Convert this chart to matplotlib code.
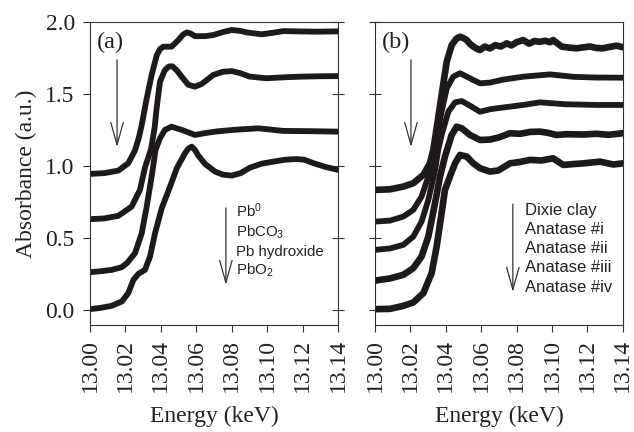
import numpy as np
import matplotlib
matplotlib.use("Agg")
import matplotlib.pyplot as plt

# ---- data (energy keV, absorbance a.u.) ----
pb0 = [(13.000, 0.947), (13.008, 0.952), (13.016, 0.970), (13.0216, 1.021),
       (13.0254, 1.110), (13.0275, 1.195), (13.0292, 1.286), (13.032, 1.470),
       (13.0348, 1.633), (13.0377, 1.770), (13.0395, 1.812), (13.0414, 1.829),
       (13.046, 1.829), (13.0499, 1.875), (13.0525, 1.912), (13.0546, 1.928),
       (13.0565, 1.922), (13.0593, 1.902), (13.065, 1.902), (13.0696, 1.910),
       (13.075, 1.930), (13.080, 1.945), (13.085, 1.938), (13.0885, 1.928),
       (13.0969, 1.915), (13.103, 1.925), (13.1091, 1.937), (13.118, 1.935),
       (13.128, 1.933), (13.140, 1.935)]

pbco3 = [(13.000, 0.633), (13.008, 0.638), (13.016, 0.656), (13.0235, 0.720),
         (13.0282, 0.836), (13.031, 0.990), (13.0345, 1.120), (13.0365, 1.270),
         (13.0376, 1.400), (13.0395, 1.586), (13.0423, 1.667), (13.0445, 1.692),
         (13.0465, 1.693), (13.0490, 1.665), (13.0515, 1.625), (13.0555, 1.565),
         (13.0593, 1.552), (13.063, 1.570), (13.0696, 1.633), (13.075, 1.655),
         (13.080, 1.660), (13.085, 1.645), (13.090, 1.622), (13.0997, 1.610),
         (13.110, 1.617), (13.1185, 1.621), (13.130, 1.624), (13.140, 1.625)]

pb_hydroxide = [(13.000, 0.265), (13.006, 0.272), (13.0122, 0.281), (13.0179, 0.300),
                (13.021, 0.330), (13.0254, 0.397), (13.0292, 0.535), (13.032, 0.720),
                (13.0348, 0.928), (13.037, 1.113), (13.0395, 1.194), (13.0423, 1.252),
                (13.046, 1.274), (13.0518, 1.252), (13.0593, 1.217), (13.065, 1.230),
                (13.072, 1.242), (13.0809, 1.252), (13.088, 1.258), (13.095, 1.263),
                (13.1091, 1.245), (13.125, 1.243), (13.140, 1.240)]

pbo2 = [(13.000, 0.009), (13.006, 0.018), (13.0122, 0.032), (13.0179, 0.062),
        (13.0216, 0.120), (13.0245, 0.212), (13.0273, 0.254), (13.031, 0.281),
        (13.0339, 0.374), (13.0367, 0.535), (13.0405, 0.709), (13.0452, 0.859),
        (13.049, 0.986), (13.0536, 1.090), (13.0555, 1.122), (13.0574, 1.136),
        (13.0593, 1.112), (13.0611, 1.075), (13.065, 1.015), (13.0706, 0.963),
        (13.075, 0.942), (13.080, 0.935), (13.085, 0.952), (13.0903, 0.990),
        (13.097, 1.018), (13.1035, 1.032), (13.110, 1.045), (13.1167, 1.050),
        (13.121, 1.045), (13.126, 1.022), (13.133, 0.995), (13.140, 0.975)]

dixie = [(13.000, 0.836), (13.0085, 0.840), (13.016, 0.859), (13.0216, 0.882),
         (13.0273, 0.940), (13.031, 1.020), (13.0329, 1.113), (13.0348, 1.263),
         (13.0376, 1.494), (13.0405, 1.725), (13.0433, 1.840), (13.046, 1.885),
         (13.048, 1.898), (13.050, 1.888), (13.0518, 1.875), (13.0535, 1.850),
         (13.0555, 1.830), (13.0575, 1.815), (13.0593, 1.806), (13.062, 1.830),
         (13.0649, 1.817), (13.068, 1.840), (13.071, 1.830), (13.0743, 1.852),
         (13.077, 1.838), (13.080, 1.860), (13.0837, 1.875), (13.087, 1.850),
         (13.090, 1.868), (13.0931, 1.863), (13.096, 1.870), (13.099, 1.860),
         (13.1006, 1.875), (13.103, 1.852), (13.1054, 1.830), (13.110, 1.822),
         (13.1139, 1.818), (13.118, 1.825), (13.1214, 1.830), (13.125, 1.820),
         (13.1289, 1.818), (13.132, 1.826), (13.1364, 1.836), (13.140, 1.825)]

anatase_i = [(13.000, 0.616), (13.0085, 0.623), (13.016, 0.651), (13.0216, 0.697),
             (13.0263, 0.790), (13.0301, 0.928), (13.0329, 1.067), (13.034, 1.150),
             (13.0376, 1.378), (13.0405, 1.540), (13.0442, 1.621), (13.048, 1.645),
             (13.0536, 1.610), (13.0593, 1.575), (13.0649, 1.580), (13.072, 1.600),
             (13.0837, 1.621), (13.0988, 1.637), (13.1121, 1.620), (13.125, 1.615),
             (13.140, 1.614)]

anatase_ii = [(13.000, 0.420), (13.0085, 0.430), (13.016, 0.455), (13.0216, 0.512),
              (13.0263, 0.616), (13.0301, 0.766), (13.0339, 0.974), (13.0357, 1.113),
              (13.0376, 1.217), (13.0414, 1.378), (13.0452, 1.443), (13.049, 1.452),
              (13.0536, 1.420), (13.0593, 1.378), (13.0649, 1.395), (13.0677, 1.400),
              (13.0837, 1.425), (13.0931, 1.443), (13.1073, 1.430), (13.125, 1.425),
              (13.140, 1.425)]

anatase_iii = [(13.000, 0.207), (13.0085, 0.222), (13.016, 0.247), (13.0216, 0.293),
               (13.0263, 0.374), (13.0301, 0.512), (13.0339, 0.744), (13.0367, 0.928),
               (13.0395, 1.067), (13.0433, 1.217), (13.0461, 1.274), (13.049, 1.263),
               (13.0536, 1.217), (13.0593, 1.182), (13.0649, 1.185), (13.070, 1.200),
               (13.0762, 1.229), (13.082, 1.225), (13.0875, 1.238), (13.0931, 1.240),
               (13.0975, 1.232), (13.1025, 1.217), (13.108, 1.222), (13.1177, 1.220),
               (13.125, 1.225), (13.132, 1.218), (13.140, 1.229)]

anatase_iv = [(13.000, 0.009), (13.0085, 0.011), (13.016, 0.032), (13.0216, 0.055),
              (13.0273, 0.120), (13.032, 0.259), (13.0348, 0.443), (13.0376, 0.674),
              (13.0395, 0.836), (13.0423, 0.928), (13.0452, 1.020), (13.048, 1.078),
              (13.0518, 1.067), (13.0555, 1.020), (13.0593, 0.986), (13.0649, 0.963),
              (13.0695, 0.970), (13.0762, 1.020), (13.082, 1.030), (13.0875, 1.044),
              (13.094, 1.040), (13.1006, 1.055), (13.1063, 1.009), (13.112, 1.015),
              (13.1177, 1.020), (13.1271, 1.032), (13.1346, 1.012), (13.140, 1.020)]

labels_a = ["Pb$^{0}$", "PbCO$_{3}$", "Pb hydroxide", "PbO$_{2}$"]
labels_b = ["Dixie clay", "Anatase #i", "Anatase #ii", "Anatase #iii", "Anatase #iv"]
series_a = [pb0, pbco3, pb_hydroxide, pbo2]
series_b = [dixie, anatase_i, anatase_ii, anatase_iii, anatase_iv]

xticks = [13.00, 13.02, 13.04, 13.06, 13.08, 13.10, 13.12, 13.14]
yticks = [0.0, 0.5, 1.0, 1.5, 2.0]

LINE = "#1e1a1b"
AXC = "#333333"
TXT = "#222222"
SANS = "Liberation Sans"

plt.rcParams["font.family"] = "serif"
plt.rcParams["font.serif"] = ["Liberation Serif", "DejaVu Serif"]
plt.rcParams["mathtext.fontset"] = "custom"
plt.rcParams["mathtext.rm"] = SANS
plt.rcParams["mathtext.it"] = SANS + ":italic"

fig = plt.figure(figsize=(6.34, 4.32), dpi=100)
ax_a = fig.add_axes([0.142, 0.248, 0.391, 0.701])
ax_b = fig.add_axes([0.5915, 0.248, 0.391, 0.701])


def style_axes(ax, show_ylabels):
    ax.set_xlim(13.0, 13.14)
    ax.set_ylim(-0.1, 2.0)
    for s in ax.spines.values():
        s.set_linewidth(0.8)
        s.set_color(AXC)
    ax.tick_params(axis="x", direction="out", length=5, width=0.8, pad=5,
                   color=AXC, labelcolor=TXT, labelsize=17, labelrotation=90)
    if show_ylabels:
        ax.tick_params(axis="y", direction="out", length=5, width=0.8, pad=6,
                       color=AXC, labelcolor=TXT, labelsize=17)
    else:
        ax.tick_params(axis="y", direction="inout", length=9, width=0.8,
                       color=AXC, labelleft=False)
    ax.set_xticks(xticks)
    ax.set_xticklabels([f"{t:.2f}" for t in xticks])
    ax.set_yticks(yticks)
    if show_ylabels:
        ax.set_yticklabels([f"{t:.1f}" for t in yticks])
    ax.set_xlabel("Energy (keV)", fontsize=17, labelpad=10, color=TXT)


def draw_arrow(ax, x, y_top, y_tip):
    ax.annotate("", xy=(x, y_tip), xytext=(x, y_top), xycoords="axes fraction",
                arrowprops=dict(arrowstyle="->,head_length=1.6,head_width=0.45",
                                mutation_scale=10, lw=0.9, color=AXC,
                                shrinkA=0, shrinkB=0))


# panel (a)
for pts in series_a:
    e, a = np.array(pts).T
    ax_a.plot(e, a, color=LINE, lw=4.2, solid_joinstyle="round",
              solid_capstyle="round")
style_axes(ax_a, True)
ax_a.set_ylabel("Absorbance (a.u.)", fontsize=17, labelpad=6, color=TXT)
# ticks on the right spine of panel (a)
ax_r = ax_a.secondary_yaxis("right")
ax_r.tick_params(direction="inout", length=9, width=0.8, color=AXC,
                 labelright=False)
ax_r.set_yticks(yticks)
ax_r.spines["right"].set_visible(False)

ax_a.text(0.028, 0.934, "(a)", transform=ax_a.transAxes, color=TXT,
          fontsize=17.5, va="center", ha="left")
draw_arrow(ax_a, 0.109, 0.875, 0.587)
draw_arrow(ax_a, 0.548, 0.386, 0.132)
for i, lab in enumerate(labels_a):
    ax_a.text(0.590, 0.357 - i * 0.064, lab, transform=ax_a.transAxes,
              family=SANS, fontsize=10.8, va="baseline", ha="left", color=TXT)

# panel (b)
for i, pts in enumerate(series_b):
    e, a = np.array(pts).T
    lw = 4.2 if i in (1, 2) else 4.8
    ax_b.plot(e, a, color=LINE, lw=lw, solid_joinstyle="round",
              solid_capstyle="round")
style_axes(ax_b, False)
ax_b.text(0.028, 0.934, "(b)", transform=ax_b.transAxes, color=TXT,
          fontsize=17.5, va="center", ha="left")
draw_arrow(ax_b, 0.145, 0.875, 0.587)
draw_arrow(ax_b, 0.556, 0.399, 0.109)
for i, lab in enumerate(labels_b):
    ax_b.text(0.605, 0.363 - i * 0.0633, lab, transform=ax_b.transAxes,
              family=SANS, fontsize=12, va="baseline", ha="left", color=TXT)

fig.savefig("out.png", dpi=100, facecolor="white")
